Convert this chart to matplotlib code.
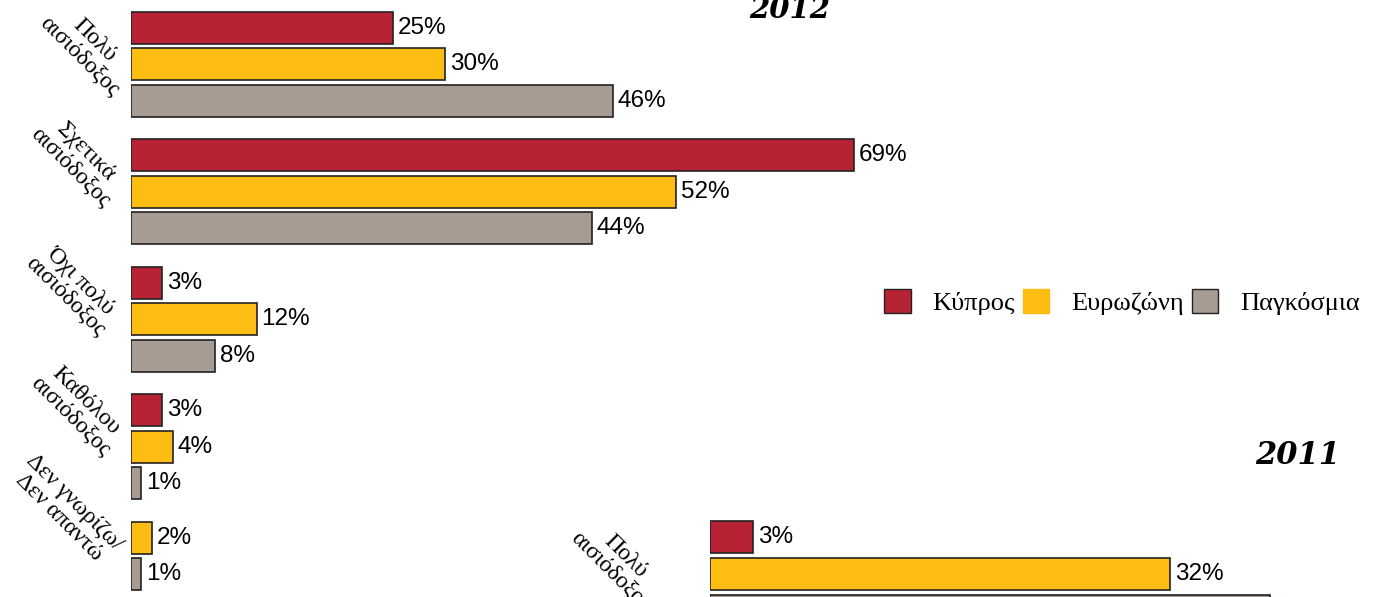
import matplotlib
matplotlib.use('Agg')
import matplotlib.pyplot as plt
from matplotlib.patches import Patch

# data 2012
categories = ['Πολύ\nαισιόδοξος', 'Σχετικά\nαισιόδοξος', 'Όχι πολύ\nαισιόδοξος',
              'Καθόλου\nαισιόδοξος', 'Δεν γνωρίζω/\nΔεν απαντώ']
series = ['Κύπρος', 'Ευρωζώνη', 'Παγκόσμια']
cyprus_2012 = [25, 69, 3, 3, None]
eurozone_2012 = [30, 52, 12, 4, 2]
world_2012 = [46, 44, 8, 1, 1]

# data 2011 (only first group visible)
categories_2011 = ['Πολύ\nαισιόδοξος']
cyprus_2011 = [3]
eurozone_2011 = [32]
world_2011 = [39]

colors = ['#B82235', '#FDBD12', '#A89B91']
W, H = 1375, 597
fig = plt.figure(figsize=(W / 100, H / 100), dpi=100)
fig.patch.set_facecolor('white')

serif = ['Liberation Serif', 'DejaVu Serif']
sans = ['Liberation Sans', 'DejaVu Sans']


def draw_groups(ax, groups, labels, offsets):
    for g, vals in enumerate(groups):
        slot = g * 3.5
        for j, v in enumerate(vals):
            if v is None:
                continue
            ax.barh(slot, v, height=0.88, color=colors[j], edgecolor='#222222', linewidth=1.2)
            ax.annotate('%d%%' % v, xy=(v, slot), xytext=(3.5, 0), textcoords='offset points',
                        ha='left', va='center', fontsize=17.5, family=sans)
            slot += 1
        n = len([v for v in vals if v is not None])
        dx, dy = offsets[g]
        ax.annotate(labels[g], xy=(0, g * 3.5 + (n - 1) / 2.0), xytext=(dx * 0.72, dy * 0.72),
                    textcoords='offset points', ha='center', va='center', rotation=-45,
                    fontsize=17, family=serif, linespacing=1.05, annotation_clip=False)


def setup(ax):
    for s in ax.spines.values():
        s.set_visible(False)
    ax.set_xticks([])
    ax.set_yticks([])
    ax.patch.set_alpha(0)


# top panel (2012)
ax1 = fig.add_axes([131 / W, 0, (W - 131) / W, 1])
groups_2012 = [list(t) for t in zip(cyprus_2012, eurozone_2012, world_2012)]
draw_groups(ax1, groups_2012, categories,
            [(-44, 16), (-53, 32), (-58, 30), (-53, 38), (-64, 46)])
ax1.set_xlim(0, (W - 131) / 10.48)
setup(ax1)
ax1.set_ylim((597 - 28) / 36.4, -28 / 36.4)

# bottom panel (2011)
ax2 = fig.add_axes([710 / W, 0, (W - 710) / W, 127 / H])
groups_2011 = [list(t) for t in zip(cyprus_2011, eurozone_2011, world_2011)]
draw_groups(ax2, groups_2011, categories_2011, [(-92, 10)])
ax2.set_xlim(0, (W - 710) / 14.37)
setup(ax2)
ax2.set_ylim((597 - 537) / 37.0, -(537 - 470) / 37.0)

fig.text(790 / W, 1 - 10 / H, '2012', ha='center', va='center', fontsize=21,
         family='DejaVu Serif', weight='bold', style='italic')
fig.text(1298 / W, 1 - 456 / H, '2011', ha='center', va='center', fontsize=22,
         family='DejaVu Serif', weight='bold', style='italic')

handles = [Patch(facecolor=colors[0], edgecolor='#222222'),
           Patch(facecolor=colors[1], edgecolor=colors[1]),
           Patch(facecolor=colors[2], edgecolor='#222222')]
fig.legend(handles, series, loc='center', bbox_to_anchor=(1122 / W, 1 - 302 / H), ncol=3,
           frameon=False, prop={'family': serif, 'size': 19}, handlelength=1.0,
           handleheight=1.0, handletextpad=0.83, columnspacing=0.3)

fig.savefig('out.png', dpi=100)
